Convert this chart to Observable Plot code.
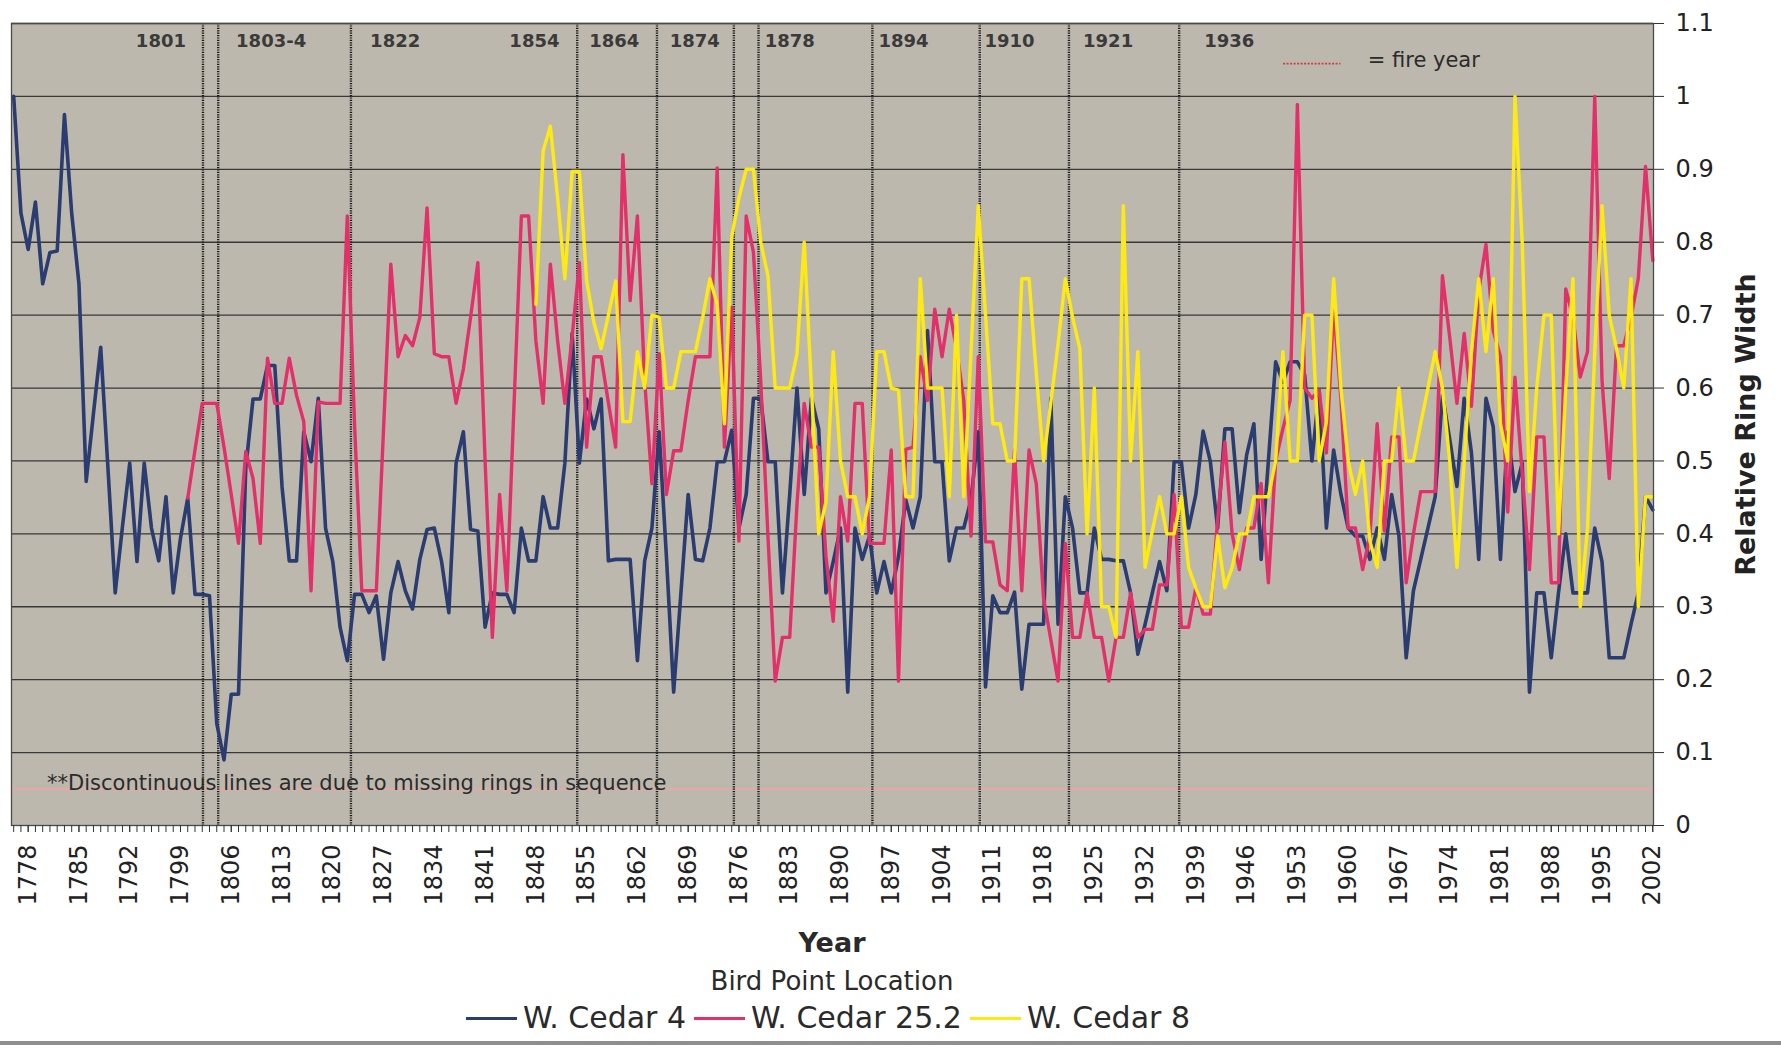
<!DOCTYPE html>
<html><head><meta charset="utf-8">
<script src="https://cdn.jsdelivr.net/npm/d3@7"></script>
<script src="https://cdn.jsdelivr.net/npm/@observablehq/plot@0.6"></script>
<style>
body{margin:0;background:#fff;font-family:"DejaVu Sans",sans-serif;}
#wrap{width:1781px;height:1048px;position:relative;overflow:hidden;background:#fff}
#chart{position:absolute;left:0;top:0}
.ctr{position:absolute;left:0;width:1664px;text-align:center;color:#2a2a2a}
#xlabel{top:924px;line-height:38px;font-size:27px;font-weight:bold}
#legtitle{top:963px;line-height:36px;font-size:26px}
#legend{top:1000px;line-height:36px;font-size:30px;display:flex;justify-content:center;align-items:center}
#legend .sw{display:inline-block;width:51px;height:3px;margin-right:6px}
#legend .tx{margin-right:8px}
#rule{position:absolute;left:0;top:1041px;width:1781px;height:4px;background:#8e8e8e}
</style></head><body>
<div id="wrap"><div id="chart"></div>
<div id="xlabel" class="ctr">Year</div>
<div id="legtitle" class="ctr">Bird Point Location</div>
<div id="legend" class="ctr"></div>
<div id="rule"></div>
</div>
<script>
// ---- data ----
const seriesNames = ["W. Cedar 4", "W. Cedar 25.2", "W. Cedar 8"];
const seriesColors = ["#2a3c70", "#e2306b", "#fdea14"];

const cedar4Start = 1776;
const cedar4 = [
 1.0,0.84,0.79,0.855,0.743,0.786,0.788,0.975,0.84,0.743,
 0.472,0.565,0.656,0.49,0.319,0.41,0.497,0.362,0.497,0.408,
 0.363,0.451,0.319,0.394,0.449,0.317,0.317,0.315,0.14,0.09,
 0.18,0.18,0.49,0.585,0.585,0.631,0.631,0.465,0.363,0.363,
 0.54,0.499,0.586,0.408,0.362,0.272,0.226,0.317,0.317,0.292,
 0.315,0.228,0.319,0.362,0.322,0.297,0.365,0.406,0.408,0.362,
 0.292,0.497,0.54,0.406,0.404,0.272,0.319,0.317,0.317,0.292,
 0.408,0.363,0.363,0.451,0.408,0.408,0.497,0.675,0.497,0.585,
 0.544,0.585,0.363,0.365,0.365,0.365,0.226,0.363,0.408,0.54,
 0.369,0.183,0.319,0.454,0.365,0.363,0.408,0.499,0.499,0.542,
 0.408,0.454,0.586,0.586,0.499,0.499,0.319,0.454,0.6,0.454,
 0.586,0.544,0.319,0.362,0.408,0.183,0.408,0.365,0.397,0.319,
 0.362,0.319,0.369,0.447,0.408,0.451,0.679,0.499,0.499,0.363,
 0.408,0.408,0.447,0.54,0.19,0.315,0.292,0.292,0.32,0.187,
 0.276,0.276,0.276,0.586,0.276,0.451,0.408,0.319,0.319,0.408,
 0.365,0.365,0.363,0.363,0.319,0.235,0.276,0.319,0.362,0.322,
 0.499,0.499,0.408,0.454,0.541,0.499,0.408,0.544,0.544,0.429,
 0.508,0.551,0.365,0.5,0.636,0.608,0.636,0.636,0.618,0.5,
 0.597,0.408,0.515,0.454,0.408,0.397,0.397,0.365,0.408,0.365,
 0.454,0.397,0.23,0.322,0.365,0.408,0.451,0.59,0.53,0.465,
 0.586,0.511,0.365,0.586,0.547,0.365,0.54,0.458,0.497,0.183,
 0.319,0.319,0.23,0.319,0.4,0.319,0.319,0.319,0.408,0.362,
 0.23,0.23,0.23,0.276,0.319,0.451,0.433
];

const cedar252Start = 1800;
const cedar252 = [
 0.449,0.515,0.579,0.579,0.579,0.519,0.454,0.387,0.513,0.476,
 0.387,0.641,0.579,0.579,0.641,0.59,0.554,0.322,0.581,0.579,
 0.579,0.579,0.836,0.55,0.322,0.322,0.322,0.544,0.77,0.643,
 0.672,0.658,0.697,0.847,0.647,0.643,0.643,0.579,0.626,0.697,
 0.772,0.5,0.258,0.454,0.322,0.58,0.836,0.836,0.665,0.579,
 0.77,0.665,0.579,0.67,0.772,0.519,0.643,0.643,0.58,0.519,
 0.92,0.72,0.836,0.611,0.469,0.647,0.454,0.514,0.514,0.583,
 0.643,0.643,0.643,0.902,0.519,0.711,0.39,0.836,0.786,0.611,
 0.397,0.198,0.258,0.258,0.44,0.579,0.519,0.519,0.369,0.28,
 0.451,0.39,0.579,0.579,0.387,0.387,0.387,0.515,0.198,0.516,
 0.519,0.643,0.583,0.708,0.643,0.708,0.654,0.583,0.397,0.643,
 0.389,0.389,0.33,0.322,0.515,0.322,0.515,0.469,0.312,0.255,
 0.198,0.387,0.258,0.258,0.319,0.258,0.258,0.198,0.258,0.258,
 0.319,0.258,0.269,0.269,0.33,0.33,0.454,0.272,0.272,0.326,
 0.29,0.29,0.419,0.526,0.4,0.351,0.408,0.408,0.469,0.333,
 0.5,0.544,0.583,0.989,0.6,0.586,0.597,0.511,0.711,0.586,
 0.408,0.408,0.351,0.397,0.551,0.404,0.533,0.533,0.333,0.4,
 0.458,0.458,0.458,0.754,0.67,0.579,0.675,0.575,0.733,0.797,
 0.679,0.643,0.43,0.615,0.483,0.351,0.533,0.533,0.333,0.333,
 0.736,0.697,0.615,0.65,1.0,0.611,0.476,0.658,0.658,0.697,
 0.75,0.904,0.775
];

const cedar8Start = 1848;
const cedar8 = [
 0.715,0.925,0.959,0.861,0.75,0.897,0.897,0.747,0.69,0.654,
 0.7,0.747,0.554,0.554,0.65,0.6,0.7,0.697,0.6,0.6,
 0.65,0.65,0.65,0.697,0.75,0.715,0.551,0.807,0.861,0.9,
 0.9,0.8,0.754,0.6,0.6,0.6,0.647,0.8,0.6,0.4,
 0.444,0.65,0.5,0.451,0.451,0.4,0.451,0.65,0.65,0.6,
 0.597,0.451,0.451,0.75,0.6,0.6,0.6,0.451,0.7,0.451,
 0.65,0.85,0.7,0.551,0.551,0.5,0.5,0.75,0.75,0.62,
 0.5,0.58,0.66,0.75,0.697,0.654,0.4,0.6,0.3,0.3,
 0.258,0.85,0.5,0.65,0.354,0.404,0.451,0.4,0.4,0.451,
 0.354,0.326,0.3,0.3,0.397,0.326,0.354,0.4,0.4,0.451,
 0.451,0.451,0.5,0.65,0.5,0.5,0.7,0.7,0.5,0.554,
 0.75,0.6,0.5,0.454,0.5,0.39,0.354,0.5,0.5,0.6,
 0.5,0.5,0.551,0.6,0.65,0.6,0.5,0.354,0.5,0.65,
 0.75,0.65,0.75,0.551,0.5,1.0,0.8,0.458,0.6,0.7,
 0.7,0.4,0.6,0.75,0.3,0.408,0.65,0.85,0.7,0.654,
 0.6,0.75,0.3,0.451,0.451
];

// fire years: label text, where the label sits, where the dotted line is drawn
const fireLabels   = ["1801","1803-4","1822","1854","1864","1874","1878","1894","1910","1921","1936"];
const fireLabelX   = [1796.3,1811.5,1828.6,1847.8,1858.8,1869.9,1883.0,1898.7,1913.3,1926.9,1943.6];
const fireLineX    = [1802.1,1804.2,1822.5,1853.7,1864.7,1875.3,1878.7,1894.4,1909.2,1921.5,1936.7];

const yTicks = [0,0.1,0.2,0.3,0.4,0.5,0.6,0.7,0.8,0.9,1.0,1.1];
const xTickYears = [1778,1785,1792,1799,1806,1813,1820,1827,1834,1841,1848,1855,1862,1869,1876,1883,1890,1897,1904,1911,1918,1925,1932,1939,1946,1953,1960,1967,1974,1981,1988,1995,2002];
const allYears = d3.range(1776, 2003);
const baselineMark = 0.05;

// ---- build ----
const rows = (start, vals) => vals.map((v, i) => ({year: start + i, value: v}));
const s4 = rows(cedar4Start, cedar4);
const s25 = rows(cedar252Start, cedar252);
const s8 = rows(cedar8Start, cedar8);
const fireLab = fireLabels.map((t, i) => ({t, x: fireLabelX[i]}));

const chart = Plot.plot({
  width: 1781, height: 925,
  marginLeft: 11, marginRight: 128, marginTop: 23, marginBottom: 100,
  x: {domain: [1775.7, 2002.1]},
  y: {domain: [0, 1.1]},
  style: {fontFamily: "DejaVu Sans", fontSize: "24px", color: "#222", background: "transparent", overflow: "visible"},
  marks: [
    Plot.frame({fill: "#bdb8ae"}),
    Plot.ruleY(yTicks.slice(1), {stroke: "#383838", strokeWidth: 1.3}),
    Plot.ruleY([baselineMark], {stroke: "#f2a5a5", strokeWidth: 1.6}),
    Plot.ruleX(fireLineX, {stroke: "#1a1a1a", strokeWidth: 2.4, strokeDasharray: "1.2,1.2"}),
    Plot.text(fireLab, {x: "x", y: 1.075, text: "t", fontSize: 18, fontWeight: "bold", fill: "#3a3a3a"}),
    Plot.ruleY([1.045], {x1: 1951.1, x2: 1959.0, stroke: "#d43a3a", strokeWidth: 1.6, strokeDasharray: "2,1.5"}),
    Plot.text(["= fire year"], {x: 1962.7, y: 1.05, text: d => d, textAnchor: "start", fontSize: 21, fill: "#2b2b2b"}),
    Plot.text(["**Discontinuous lines are due to missing rings in sequence"], {x: 1780.6, y: 0.058, text: d => d, textAnchor: "start", fontSize: 21, fill: "#2b2b2b"}),
    Plot.line(s4, {x: "year", y: "value", stroke: seriesColors[0], strokeWidth: 3.6}),
    Plot.line(s25, {x: "year", y: "value", stroke: seriesColors[1], strokeWidth: 3.4}),
    Plot.line(s8, {x: "year", y: "value", stroke: seriesColors[2], strokeWidth: 3.4}),
    Plot.frame({stroke: "#4a4a4a", strokeWidth: 1.3}),
    Plot.axisY({anchor: "right", ticks: yTicks, tickFormat: d => String(+d.toFixed(1)), tickSize: 10, tickPadding: 12, fontSize: 24, label: null, stroke: "#333"}),
    Plot.text(["Relative Ring Width"], {frameAnchor: "right", dx: 93, rotate: -90, textAnchor: "middle", lineAnchor: "middle", text: d => d, fontSize: 27, fontWeight: "bold", fill: "#222"}),
    Plot.axisX({ticks: allYears, tickSize: 7, tickFormat: () => "", label: null, stroke: "#333"}),
    Plot.axisX({ticks: xTickYears, tickSize: 7, tickRotate: -90, tickPadding: 12, tickFormat: d => String(d), fontSize: 24, label: null, stroke: "#333"})
  ]
});
document.getElementById("chart").appendChild(chart);

const leg = document.getElementById("legend");
seriesNames.forEach((n, i) => {
  const sw = document.createElement("span"); sw.className = "sw"; sw.style.background = seriesColors[i];
  const tx = document.createElement("span"); tx.className = "tx"; tx.textContent = n;
  leg.appendChild(sw); leg.appendChild(tx);
});
</script>
</body></html>
